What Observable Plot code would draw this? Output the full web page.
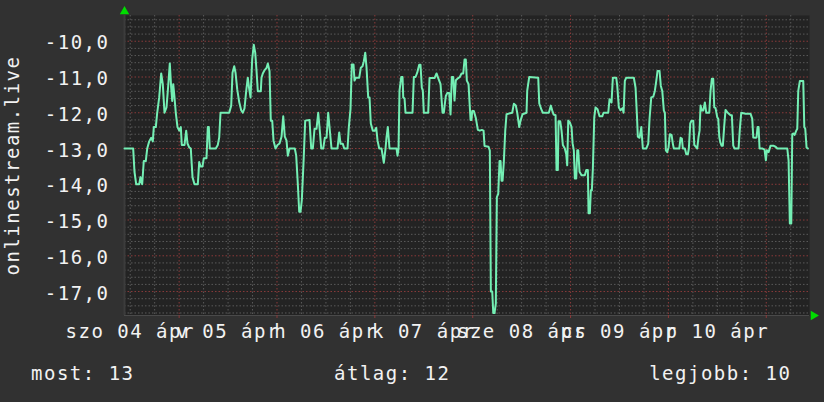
<!DOCTYPE html>
<html><head><meta charset="utf-8">
<script src="https://cdn.jsdelivr.net/npm/d3@7"></script>
<script src="https://cdn.jsdelivr.net/npm/@observablehq/plot@0.6"></script>
<style>
body{margin:0;background:#313131;}
#chart{width:824px;height:402px;position:relative;font-family:'DejaVu Sans Mono';font-size:19px;letter-spacing:1.5px;color:#f2f2f2;overflow:hidden;}
.leg{position:absolute;top:364px;line-height:19px;white-space:pre;}
</style></head><body><div id="chart"></div>
<script>
// hours since start of the 7-day window
const hours = [0,2.13,2.45,2.87,3.61,3.92,4.34,4.73,5.22,5.57,6.06,6.55,6.94,7.19,7.68,8.02,8.51,9.00,9.39,9.81,10.30,10.72,11.11,11.45,11.70,11.95,12.26,12.58,13.00,13.42,13.81,14.05,14.72,15.13,15.45,15.87,16.26,16.68,17.17,17.98,18.32,18.64,19.13,19.45,20.11,20.43,20.68,20.92,22.39,22.88,23.23,23.55,25.68,26.17,26.49,26.91,27.23,27.64,28.13,28.62,29.02,29.43,29.85,30.24,30.59,30.91,31.32,31.71,32.06,32.38,32.70,33.43,33.60,33.92,34.41,34.83,35.15,35.57,35.88,36.23,36.55,37.04,37.53,38.02,38.51,38.93,39.32,39.74,40.05,40.47,41.77,42.11,42.51,42.85,43.17,43.49,43.91,44.32,45.38,45.79,46.19,46.60,47.09,47.51,47.90,48.25,48.74,49.13,49.55,49.96,50.36,50.77,52.24,52.66,52.98,53.54,53.89,54.70,55.02,55.43,55.75,56.17,56.41,56.73,57.57,57.96,58.38,58.70,59.04,59.36,59.77,60.09,60.41,60.90,61.39,61.74,62.06,62.47,63.04,63.60,64.02,64.26,64.58,65.00,66.72,66.96,67.21,67.45,67.87,68.19,68.36,68.68,68.92,70.64,70.96,71.38,71.79,72.28,72.60,72.92,73.17,73.41,74.49,74.81,76.04,76.53,76.94,77.51,77.75,78.00,78.32,78.56,78.81,79.15,79.64,79.96,80.28,80.62,80.94,81.26,81.85,82.24,82.66,83.08,83.40,83.71,83.96,84.38,84.62,84.87,85.11,85.28,85.68,86.17,86.66,87.15,87.64,88.06,88.30,89.28,89.60,89.85,90.19,90.44,90.75,91.07,91.32,91.66,91.98,92.23,92.47,92.72,93.03,93.38,93.70,95.09,95.49,95.98,96.32,96.81,97.13,97.62,98.60,98.77,99.26,101.47,101.72,102.21,102.60,104.07,104.56,104.91,105.23,105.72,105.96,106.28,106.45,106.87,107.19,107.51,107.99,108.34,108.58,108.83,109.22,109.64,109.89,110.20,110.45,110.79,111.04,111.28,111.60,112.09,112.90,113.25,113.64,113.81,114.13,114.37,114.62,114.87,115.21,115.53,116.02,116.51,117.17,117.49,118.64,118.96,119.45,119.77,120.60,120.85,121.24,121.66,122.15,122.40,122.71,123.06,124.92,125.34,125.66,125.90,126.32,126.74,127.13,127.96,128.45,128.77,129.19,129.68,130.07,130.42,130.73,131.22,131.54,131.89,132.28,132.53,132.77,133.11,133.43,133.75,134.17,134.49,134.73,136.06,136.38,136.70,136.94,137.43,137.78,138.17,138.41,138.75,139.07,139.49,139.74,140.13,140.47,140.79,141.04,141.28,141.60,141.94,142.34,142.68,143.42,143.73,144.05,144.39,144.64,144.96,145.38,145.62,145.87,146.11,146.43,146.75,147.09,147.41,147.83,148.22,148.64,148.96,149.30,149.62,150.60,150.92,151.26,152.32,153.55,153.96,154.21,154.70,155.02,155.26,155.51,155.75,156.49,156.98,157.30,157.54,157.96,158.45,159.11,159.68,160.09,162.55,162.87,163.18,163.53,163.77,164.09,164.34,164.76,165.00,165.24,165.64,166.47,166.72,166.96,167.28,167.60];
const values = [-13.0,-13.0,-13.65,-14.0,-14.0,-13.8,-14.0,-13.35,-13.35,-13.0,-12.8,-12.7,-12.8,-12.4,-12.4,-12.0,-11.57,-10.9,-11.2,-12.0,-11.85,-11.25,-10.62,-11.3,-11.67,-11.2,-11.57,-12.0,-12.4,-12.5,-12.4,-12.9,-12.9,-12.5,-12.86,-12.97,-13.0,-13.8,-14.0,-14.0,-13.38,-13.5,-13.5,-13.27,-13.27,-12.4,-12.4,-13.0,-13.0,-12.9,-12.69,-12.0,-12.0,-11.8,-10.88,-10.7,-10.88,-11.34,-11.7,-11.93,-12.0,-11.88,-11.39,-11.02,-11.34,-11.57,-10.5,-10.1,-10.32,-10.83,-11.4,-11.4,-11.02,-10.9,-10.8,-10.75,-10.62,-10.83,-12.22,-12.22,-12.78,-13.0,-12.9,-12.86,-12.67,-12.1,-12.67,-12.78,-13.2,-13.0,-13.0,-13.2,-14.0,-14.77,-14.77,-14.44,-13.38,-12.22,-12.2,-13.0,-13.0,-12.45,-12.45,-12.0,-12.5,-13.0,-13.0,-12.7,-12.7,-12.0,-12.5,-13.0,-13.0,-12.55,-12.87,-12.87,-13.0,-13.0,-12.4,-11.9,-10.65,-10.65,-11.1,-11.02,-11.02,-10.74,-10.7,-10.56,-10.32,-10.74,-11.57,-11.57,-12.3,-12.5,-12.5,-12.42,-12.78,-13.0,-13.0,-13.4,-13.0,-12.69,-12.4,-13.0,-13.0,-13.2,-13.0,-11.38,-11.0,-11.0,-11.57,-11.6,-12.0,-12.0,-11.0,-11.0,-10.88,-10.66,-10.66,-11.3,-11.38,-12.0,-12.0,-11.03,-11.03,-10.9,-11.03,-11.2,-11.6,-12.0,-12.0,-11.76,-11.53,-11.45,-11.45,-12.05,-11.0,-11.0,-11.66,-11.09,-11.03,-11.0,-10.9,-10.9,-10.51,-10.51,-11.1,-11.2,-11.7,-12.2,-12.2,-11.95,-11.95,-12.15,-12.48,-12.5,-12.48,-12.5,-12.93,-12.95,-13.06,-17.0,-17.0,-17.6,-17.6,-17.33,-14.36,-14.27,-13.35,-13.35,-13.9,-13.9,-13.38,-12.5,-12.04,-12.0,-11.75,-11.8,-12.0,-12.4,-12.22,-12.04,-12.0,-11.38,-11.0,-11.02,-11.74,-11.9,-12.0,-12.0,-11.8,-11.94,-12.05,-12.07,-13.6,-13.6,-12.24,-12.24,-12.5,-12.9,-13.0,-13.16,-13.47,-12.22,-12.27,-12.4,-12.85,-13.05,-13.84,-13.84,-13.05,-13.05,-13.65,-13.75,-13.75,-13.6,-13.6,-14.81,-14.81,-14.17,-14.17,-13.56,-12.13,-11.85,-11.9,-12.1,-12.1,-12.0,-12.0,-11.62,-11.71,-11.02,-11.02,-11.25,-11.85,-11.93,-11.87,-12.0,-11.11,-11.02,-11.02,-11.3,-12.03,-12.67,-12.7,-12.4,-13.0,-13.0,-12.86,-12.17,-11.57,-11.55,-11.39,-11.11,-10.83,-10.83,-11.25,-11.39,-11.94,-12.0,-13.05,-13.1,-12.97,-12.6,-12.62,-12.87,-13.0,-13.0,-12.7,-12.72,-13.0,-13.0,-13.16,-13.16,-13.0,-12.3,-12.22,-12.22,-12.9,-12.95,-13.0,-12.67,-12.5,-11.8,-11.94,-11.94,-11.71,-12.0,-12.0,-11.39,-11.05,-11.05,-11.85,-11.87,-12.13,-12.17,-12.67,-12.82,-12.92,-12.92,-12.36,-11.92,-11.98,-12.03,-12.07,-12.07,-12.92,-13.0,-13.0,-12.45,-12.0,-12.03,-12.03,-12.17,-12.69,-12.7,-12.69,-12.4,-12.4,-13.0,-13.0,-13.03,-13.33,-13.05,-13.1,-12.92,-12.92,-12.95,-13.0,-13.0,-13.33,-15.1,-15.1,-12.6,-12.58,-12.62,-12.5,-12.45,-11.39,-11.11,-11.11,-12.4,-12.45,-12.97,-13.0];

const yTicks = [-17,-16,-15,-14,-13,-12,-11,-10];
const dayLabels = ["szo 04 ápr","v 05 ápr","h 06 ápr","k 07 ápr","sze 08 ápr","cs 09 ápr","p 10 ápr"];
const dayLabelHours = [1.4,25.4,49.4,73.4,97.4,121.4,145.4];
const midnightHours = [13.4,37.4,61.4,85.4,109.4,133.4,157.4];
const xDomain = [0, 168];
const yDomain = [-17.67, -9.28];
const axisTitle = "onlinestream.live";
const legendItems = [
  {text: "most: 13", side: "left", pos: 31},
  {text: "átlag: 12", side: "left", pos: 334},
  {text: "legjobb: 10", side: "right", pos: 32.5}
];

const data = hours.map((h, i) => ({h, v: values[i]}));
const minorX = d3.range(1.4, 168, 6).filter(h => !midnightHours.some(m => Math.abs(m - h) < 0.01));
const minorY = d3.range(-17.6, -9.3, 0.2).filter(v => Math.abs(v - Math.round(v)) > 0.01);

const plot = Plot.plot({
  width: 824,
  height: 350,
  marginLeft: 124,
  marginRight: 15,
  marginTop: 15,
  marginBottom: 35,
  style: "background:#313131;color:#f2f2f2;font-family:'DejaVu Sans Mono';font-size:19px;letter-spacing:1.5px;overflow:visible;",
  x: {type: "linear", domain: xDomain, label: null},
  y: {type: "linear", domain: yDomain, label: null},
  marks: [
    Plot.frame({fill: "#232323", stroke: null}),
    Plot.ruleY(minorY, {stroke: "#5a5a5a", strokeDasharray: "1.5,2", strokeWidth: 1}),
    Plot.ruleX(minorX, {stroke: "#5a5a5a", strokeDasharray: "1.5,2", strokeWidth: 1}),
    Plot.ruleY(yTicks, {stroke: "#8a3a3a", strokeDasharray: "1.5,2", strokeWidth: 1}),
    Plot.ruleX(midnightHours, {stroke: "#8a3a3a", strokeDasharray: "1.5,2", strokeWidth: 1}),
    Plot.ruleX([xDomain[0]], {stroke: "#3c3c3c", strokeWidth: 2}),
    Plot.ruleY([yDomain[0]], {stroke: "#4a4a4a", strokeWidth: 1}),
    Plot.axisX(midnightHours, {tickSize: 3, text: null, stroke: "#8a3a3a"}),
    Plot.axisY(yTicks, {tickSize: 0, tickPadding: 15, dy: 2, tickFormat: d => d.toFixed(1).replace(".", ","), fill: "#f2f2f2"}),
    Plot.axisX(dayLabelHours, {tickSize: 0, tickPadding: 9, tickFormat: (d, i) => dayLabels[i], fill: "#f2f2f2"}),
    Plot.text([axisTitle], {frameAnchor: "left", rotate: -90, dx: -112, text: d => d, fill: "#f2f2f2", textAnchor: "middle", lineAnchor: "middle"}),
    Plot.line(data, {x: "h", y: "v", stroke: "#74efb4", strokeWidth: 2}),
    Plot.dot([{x: xDomain[0], y: yDomain[1]}], {x: "x", y: "y", symbol: "triangle", r: 3.5, fill: "#00dd00", stroke: null, dy: -4}),
    Plot.dot([{x: xDomain[1], y: yDomain[0]}], {x: "x", y: "y", symbol: "triangle", r: 3.5, fill: "#00dd00", stroke: null, rotate: 90, dx: 4})
  ]
});

const chart = document.getElementById("chart");
chart.appendChild(plot);
for (const item of legendItems) {
  const s = document.createElement("span");
  s.className = "leg";
  s.textContent = item.text;
  s.style[item.side] = item.pos + "px";
  chart.appendChild(s);
}
</script></body></html>
